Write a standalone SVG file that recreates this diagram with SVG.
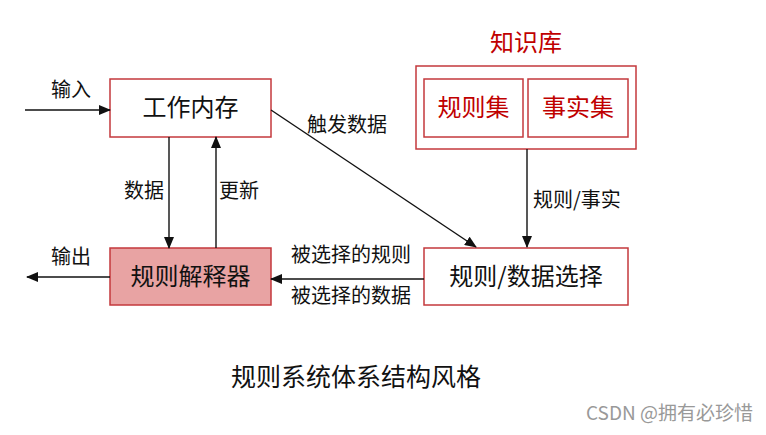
<svg xmlns="http://www.w3.org/2000/svg" width="766" height="435" viewBox="0 0 766 435">
<style>
text{font-family:"Noto Sans CJK SC","Noto Sans",sans-serif;}
.box{fill:#fff;stroke:#c4393c;stroke-width:1.5;}
.node{font-size:24px;fill:#111;text-anchor:middle;}
.red{font-size:24px;fill:#c00000;text-anchor:middle;}
.lbl{font-size:20px;fill:#111;}
.line{stroke:#111;stroke-width:1.4;fill:none;}
</style>
<defs>
<marker id="ah" markerWidth="12" markerHeight="10" refX="11" refY="5" orient="auto" markerUnits="userSpaceOnUse">
<path d="M0,0 L12,5 L0,10 Z" fill="#111"/>
</marker>
</defs>
<rect width="766" height="435" fill="#fff"/>
<g id="work-memory">
<rect class="box" x="110" y="79" width="161" height="58"/>
<text class="node" x="190.5" y="116">工作内存</text>
</g>
<g id="interpreter">
<rect x="110" y="248" width="161" height="57" fill="#e8a3a3" stroke="#c4393c" stroke-width="1.5"/>
<text class="node" x="190.5" y="285">规则解释器</text>
</g>
<g id="knowledge-base">
<text class="red" x="526" y="51">知识库</text>
<rect class="box" x="416" y="66" width="220" height="83"/>
<g id="rule-set">
<rect class="box" x="424" y="79" width="99" height="58"/>
<text class="red" x="473.5" y="116">规则集</text>
</g>
<g id="fact-set">
<rect class="box" x="528" y="79" width="100" height="58"/>
<text class="red" x="578" y="116">事实集</text>
</g>
</g>
<g id="selector">
<rect class="box" x="424" y="248" width="204" height="57"/>
<text class="node" x="526" y="285">规则/数据选择</text>
</g>
<g id="connectors">
<line class="line" x1="25" y1="110" x2="110" y2="110" marker-end="url(#ah)"/>
<line class="line" x1="169" y1="137" x2="169" y2="248" marker-end="url(#ah)"/>
<line class="line" x1="216" y1="248" x2="216" y2="137" marker-end="url(#ah)"/>
<line class="line" x1="110" y1="277" x2="27" y2="277" marker-end="url(#ah)"/>
<line class="line" x1="271" y1="110" x2="476" y2="247" marker-end="url(#ah)"/>
<line class="line" x1="527" y1="149" x2="527" y2="247" marker-end="url(#ah)"/>
<line class="line" x1="424" y1="279" x2="271" y2="279" marker-end="url(#ah)"/>
</g>
<g id="labels">
<text class="lbl" x="51" y="97">输入</text>
<text class="lbl" x="51" y="264">输出</text>
<text class="lbl" x="124" y="198">数据</text>
<text class="lbl" x="219" y="198">更新</text>
<text class="lbl" x="307" y="132">触发数据</text>
<text class="lbl" x="533" y="207">规则/事实</text>
<text class="lbl" x="291" y="262">被选择的规则</text>
<text class="lbl" x="291" y="303">被选择的数据</text>
</g>
<text x="231" y="386" font-size="25" fill="#111">规则系统体系结构风格</text>
<text x="753" y="420" font-size="19" fill="#999" text-anchor="end">CSDN @拥有必珍惜</text>
</svg>
